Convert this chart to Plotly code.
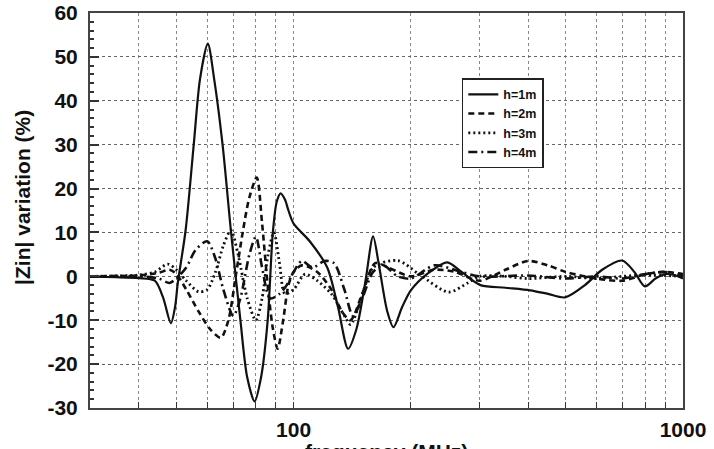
import plotly.graph_objects as go

# ---- data ----
f_h1 = [30, 35, 40, 44, 46.2, 48.4, 49.6, 50.4, 52.8, 55.4, 57.5, 60.2, 62.5, 65.7, 69, 73, 76, 79.4,
        82.5, 85.8, 88.4, 90.5, 92.6, 95, 97, 100, 110, 122, 130, 138, 145, 153, 160, 166, 174, 180.5,
        190, 200, 220, 248, 270, 302, 350, 405, 450, 498, 560, 620, 698, 750, 798, 850, 900, 950, 1000]
v_h1 = [-0.1, -0.2, -0.4, -1, -4.8, -10.7, -7, -1.6, 10.5, 30, 45, 53, 45, 30, 10.5, -10, -23, -28.5,
        -23, -10, 9.8, 17, 18.9, 17.5, 15, 12, 8, 2, -7, -16.5, -12, -1, 9.1, 2, -8, -11.6,
        -7, -3.2, 0.5, 3.2, 1, -2, -2.6, -3.2, -4, -4.8, -2, 1.5, 3.6, 1, -2.3, -0.5, 0.5, 0.3, -0.5]

f_h2 = [30, 40, 45, 48, 50, 53, 57, 61, 65, 68, 71, 74, 77, 80.4, 83, 86, 88.5, 91, 94, 97, 100, 105,
        115, 125, 133, 140, 150, 162, 175, 200, 230, 260, 300, 350, 400, 450, 500, 600, 700, 800, 900, 1000]
v_h2 = [0, 0.2, 0.8, 1.5, 0.5, -3, -8, -12, -14, -10, 0, 10, 18, 22.5, 12, -3, -12, -16.5, -10, -2, 1, 2.5,
        1, -3, -8, -10, -4, 3, 2, 0, 1.5, 1, -1, 1.5, 3.5, 2.5, 1, -0.5, -1, 0.5, 1, 0.5]

f_h3 = [30, 40, 44, 47.5, 50, 53, 57, 60, 63, 66, 69, 72, 76, 80, 83, 86, 89, 92, 95, 100, 107, 115,
        125, 135, 140, 148, 160, 185, 210, 250, 280, 300, 350, 400, 500, 600, 700, 800, 1000]
v_h3 = [0, 0.3, 1, 2.8, 1.5, -1, -3.5, -3, 1, 7, 10.5, 5, -5, -10, -5, 5, 10, 3, -4, -3, 0.5, -1,
        -4, -9, -11, -6, 2, 3.6, 0.5, -3.6, -1.5, 0, 0, -0.5, 0, -0.5, 0, 0.3, 0]

f_h4 = [30, 40, 45, 48, 50, 53, 56, 60, 63, 66, 70, 73, 77, 80, 83, 87, 92, 96, 100, 105, 112, 120,
        127, 135, 142, 150, 160, 170, 185, 200, 230, 270, 300, 400, 500, 600, 700, 800, 900, 1000]
v_h4 = [0, 0, -0.5, -1.5, -0.5, 2, 6, 8, 4, -3, -9, -5, 5, 9, 2, -5, -4, -2, 1, 3.5, 2, 3.5,
        3, -3, -9, -5, 1, 2.5, 0, -0.5, 2.5, 1, 0, 0.2, -0.5, 0, -0.5, 0.5, 1, 0]

names = ["h=1m", "h=2m", "h=3m", "h=4m"]
x_minor = [40, 50, 60, 70, 80, 90, 100, 200, 300, 400, 500, 600, 700, 800, 900, 1000]
x_labels = ["", "", "", "", "", "", "100", "", "", "", "", "", "", "", "", "1000"]
y_vals = [-30, -20, -10, 0, 10, 20, 30, 40, 50, 60]
y_labels = ["-30", "-20", "-10", "0", "10", "20", "30", "40", "50", "60"]

FONT = "Liberation Sans, Arial, sans-serif"

series = [
    (f_h1, v_h1, names[0], dict(color="#111", width=2.2, dash="solid")),
    (f_h2, v_h2, names[1], dict(color="#111", width=2.6, dash="6px,4px")),
    (f_h3, v_h3, names[2], dict(color="#111", width=2.8, dash="2px,3px")),
    (f_h4, v_h4, names[3], dict(color="#111", width=2.6, dash="9px,4px,2px,4px")),
]

fig = go.Figure()
for fx, vy, nm, ln in series:
    ln = dict(ln, shape="spline", smoothing=0.8)
    fig.add_trace(go.Scatter(x=fx, y=vy, name=nm, mode="lines", line=ln))

fig.update_layout(
    width=714, height=449,
    margin=dict(l=90, r=31, t=13, b=41),
    paper_bgcolor="white", plot_bgcolor="white",
    showlegend=True,
    legend=dict(x=0.627, y=0.835, xanchor="left", yanchor="top",
                bgcolor="white", bordercolor="#222", borderwidth=1.5,
                font=dict(family=FONT, size=12.5, color="#111", weight="bold"),
                tracegroupgap=0),
    xaxis=dict(type="log", range=[1.4771, 3.0], automargin=False,
               tickmode="array", tickvals=x_minor, ticktext=x_labels,
               ticks="inside", ticklen=6, tickcolor="#333", tickwidth=1,
               showgrid=True, gridcolor="#888", griddash="dot", gridwidth=1,
               showline=True, linecolor="#444", linewidth=2, mirror=True,
               tickfont=dict(family=FONT, size=21, color="#111", weight="bold"),
               ticklabelstandoff=2,
               zeroline=False),
    yaxis=dict(range=[-30, 60], automargin=False,
               tickmode="array", tickvals=y_vals, ticktext=y_labels,
               ticks="inside", ticklen=9, tickcolor="#333", tickwidth=1.5,
               minor=dict(dtick=2, ticks="inside", ticklen=4, tickcolor="#333", showgrid=False),
               showgrid=True, gridcolor="#666", griddash="dot", gridwidth=1,
               showline=True, linecolor="#444", linewidth=2, mirror=True,
               tickfont=dict(family=FONT, size=21, color="#111", weight="bold"),
               ticklabelstandoff=6,
               zeroline=False),
    annotations=[
        dict(text="|Zin| variation (%)", xref="paper", yref="paper", x=-0.115, y=0.534,
             textangle=-90, showarrow=False, xanchor="center", yanchor="middle",
             font=dict(family=FONT, size=21, color="#111", weight="bold")),
        dict(text="frequency (MHz)", xref="paper", yref="paper", x=0.5, y=-0.075,
             showarrow=False, xanchor="center", yanchor="top",
             font=dict(family=FONT, size=21, color="#111", weight="bold")),
    ],
)

fig.write_html("out.html")
